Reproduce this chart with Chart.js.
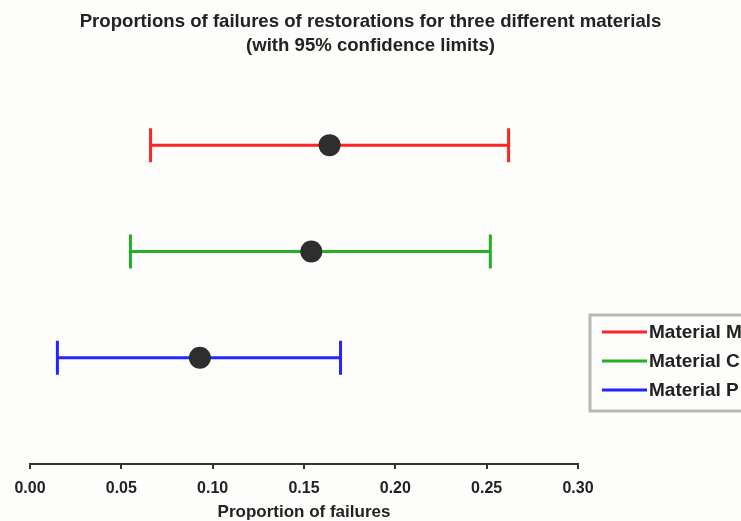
<!DOCTYPE html>
<html>
<head>
<meta charset="utf-8">
<script src="https://cdn.jsdelivr.net/npm/chart.js@4.4.0/dist/chart.umd.min.js"></script>
<style>
html, body { margin: 0; padding: 0; background: #fdfdfb; }
</style>
</head>
<body>
<canvas id="grafico" width="741" height="521"></canvas>
<script>
// dados
const materiais = ['Material M', 'Material C', 'Material P'];
const proporcoes = [0.164, 0.154, 0.093];
const limInferior = [0.066, 0.055, 0.015];
const limSuperior = [0.262, 0.252, 0.170];
const posicaoY = [3, 2, 1];
const cores = ['#ff2424', '#24b024', '#2424ff'];
const ticksX = [0, 0.05, 0.10, 0.15, 0.20, 0.25, 0.30];
const tituloLinhas = ['Proportions of failures of restorations for three different materials', '(with 95% confidence limits)'];
const tituloEixoX = 'Proportion of failures';

const fonte = '"Liberation Sans", Arial, sans-serif';
const corTexto = '#222';

// barras de erro horizontais com traco nas pontas
const barrasErro = {
    id: 'barrasErro',
    beforeDatasetsDraw(chart) {
        const ctx = chart.ctx;
        const xs = chart.scales.x;
        const ys = chart.scales.y;
        ctx.save();
        for (let i = 0; i < materiais.length; i++) {
            const x1 = xs.getPixelForValue(limInferior[i]);
            const x2 = xs.getPixelForValue(limSuperior[i]);
            const y = ys.getPixelForValue(posicaoY[i]);
            ctx.strokeStyle = cores[i];
            ctx.lineWidth = 3;
            ctx.beginPath();
            ctx.moveTo(x1, y); ctx.lineTo(x2, y);
            ctx.moveTo(x1, y - 17); ctx.lineTo(x1, y + 17);
            ctx.moveTo(x2, y - 17); ctx.lineTo(x2, y + 17);
            ctx.stroke();
        }
        ctx.restore();
    }
};

// titulo e legenda
const enfeites = {
    id: 'enfeites',
    afterDraw(chart) {
        const ctx = chart.ctx;
        ctx.save();
        ctx.fillStyle = corTexto;
        ctx.font = 'bold 18.6px ' + fonte;
        ctx.textAlign = 'center';
        ctx.textBaseline = 'middle';
        ctx.fillText(tituloLinhas[0], chart.width / 2, 22);
        ctx.fillText(tituloLinhas[1], chart.width / 2, 46);

        // caixa da legenda
        ctx.strokeStyle = '#b8b8b8';
        ctx.lineWidth = 3;
        ctx.strokeRect(590, 315, 200, 96);
        ctx.textAlign = 'left';
        ctx.font = 'bold 19px ' + fonte;
        for (let i = 0; i < materiais.length; i++) {
            const y = 332 + i * 29;
            ctx.strokeStyle = cores[i];
            ctx.lineWidth = 3;
            ctx.beginPath();
            ctx.moveTo(602, y); ctx.lineTo(647, y);
            ctx.stroke();
            ctx.fillStyle = corTexto;
            ctx.fillText(materiais[i], 649, y + 1);
        }
        ctx.restore();
    }
};

const datasets = materiais.map((m, i) => ({
    label: m,
    data: [{ x: proporcoes[i], y: posicaoY[i] }],
    pointRadius: 11,
    pointHoverRadius: 11,
    backgroundColor: '#2e2e2e',
    borderColor: '#2e2e2e',
    borderWidth: 0
}));

new Chart(document.getElementById('grafico'), {
    type: 'scatter',
    data: { datasets: datasets },
    options: {
        responsive: false,
        animation: false,
        layout: { padding: { left: 30, right: 163, top: 92, bottom: 0 } },
        plugins: {
            legend: { display: false },
            title: { display: false },
            tooltip: { enabled: false }
        },
        scales: {
            x: {
                min: 0,
                max: 0.3,
                afterBuildTicks: s => { s.ticks = ticksX.map(v => ({ value: v })); },
                border: { display: true, color: '#333', width: 2 },
                grid: { display: true, drawOnChartArea: false, drawTicks: true, tickLength: 5, lineWidth: 2, color: '#333' },
                ticks: {
                    padding: 12,
                    color: corTexto,
                    font: { family: fonte, size: 16, weight: 'bold', lineHeight: 1 },
                    callback: v => Number(v).toFixed(2),
                    maxRotation: 0
                },
                title: {
                    display: true,
                    text: tituloEixoX,
                    color: corTexto,
                    font: { family: fonte, size: 17, weight: 'bold', lineHeight: 1 },
                    padding: { top: -5, bottom: 0 }
                }
            },
            y: {
                display: false,
                min: 0,
                max: 3.5
            }
        }
    },
    plugins: [barrasErro, enfeites]
});
</script>
</body>
</html>
